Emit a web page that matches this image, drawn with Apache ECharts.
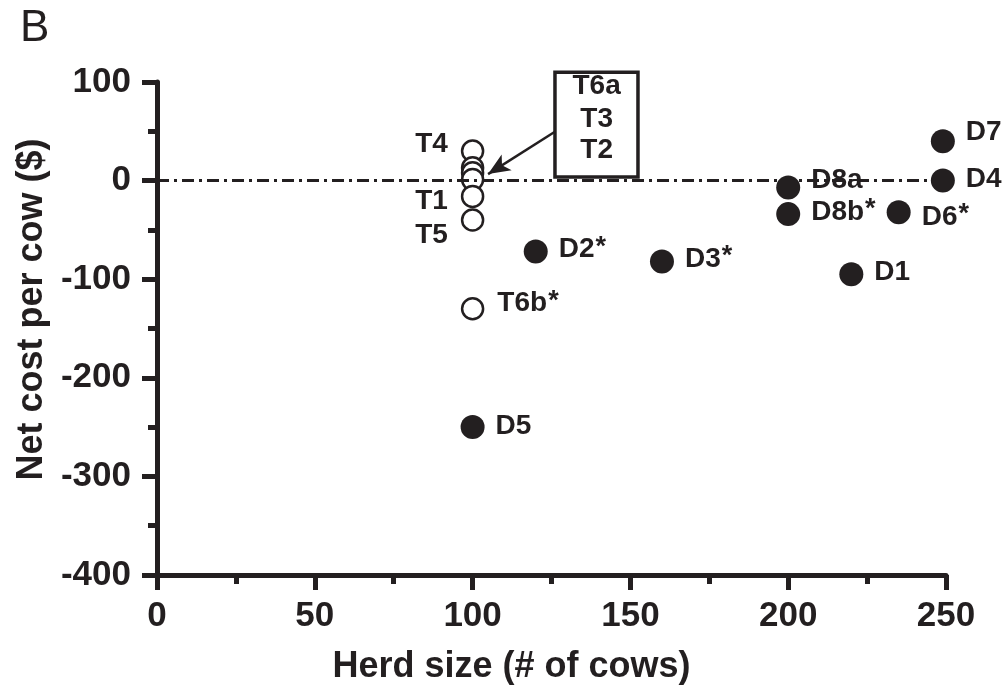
<!DOCTYPE html>
<html>
<head>
<meta charset="utf-8">
<script src="https://cdn.jsdelivr.net/npm/echarts@6/dist/echarts.min.js"></script>
<style>
html,body{margin:0;padding:0;background:#fff;}
#chart{width:1002px;height:690px;}
</style>
</head>
<body>
<div id="chart"></div>
<script>
// ---- data ----
const dNames = ['D1','D2','D3','D4','D5','D6','D7','D8a','D8b'];
const dHerd  = [220, 120, 160, 249, 100, 235, 249, 200, 200];
const dCost  = [-95, -72, -82, 0, -250, -32, 40, -7, -34];

const tNames = ['T4','T6a','T3','T2','T1','T5','T6b'];
const tHerd  = [100, 100, 100, 100, 100, 100, 100];
const tCost  = [30, 13, 8, 1, -16, -40, -130];

const starred = ['D2','D3','D6','D8b','T6b'];
const boxedNames = ['T6a','T3','T2'];

const xTicks = [0, 50, 100, 150, 200, 250];
const yTicks = [-400, -300, -200, -100, 0, 100];

// ---- styling / layout (not data) ----
const INK = '#231f20';
const FONT = '"Liberation Sans", Arial, Helvetica, sans-serif';
const labelTweaks = {
  T4: {position:'left', offset:[0,-8]},
  T1: {position:'left', offset:[0,4]},
  T5: {position:'left', offset:[0,14]},
  T6b:{position:'right', offset:[0,-3]},
  D7: {position:'right', offset:[0,-10]},
  D8a:{position:'right', offset:[0,-8]},
  D6: {position:'right', offset:[0,7]},
  D4: {position:'right', offset:[0,-2]},
  D1: {position:'right', offset:[0,-3]},
  D2: {position:'right', offset:[0,0]},
  D3: {position:'right', offset:[0,0]},
  D5: {position:'right', offset:[0,-2]},
  D8b:{position:'right', offset:[0,0]}
};
// annotation box in data units
const boxX = [126.1, 152.4];
const boxY = [110, 3.6];
const boxTextX = 139.3;
const boxTextY = [96, 62, 31];
const arrowFrom = [126.7, 50.8];
const arrowTo = [104.9, 6.6];

const rich = {
  n: {fontSize: 28, fontWeight: 'bold', color: INK, fontFamily: FONT, lineHeight: 30, verticalAlign: 'bottom'},
  s: {fontSize: 27, fontWeight: 'bold', color: INK, fontFamily: FONT, lineHeight: 26, verticalAlign: 'top', padding: [0, 0, 10, 1]}
};
function makeItem(name, x, y) {
  const tw = labelTweaks[name];
  const item = {name: name, value: [x, y]};
  if (tw && boxedNames.indexOf(name) < 0) {
    const star = starred.indexOf(name) >= 0;
    item.label = {show: true, position: tw.position,
      offset: [tw.offset[0], tw.offset[1] - (star ? 3 : 0)],
      formatter: star ? '{n|' + name + '}{s|*}' : '{n|' + name + '}'};
  } else {
    item.label = {show: false};
  }
  return item;
}
const dData = dNames.map((n, i) => makeItem(n, dHerd[i], dCost[i]));
const tData = tNames.map((n, i) => makeItem(n, tHerd[i], tCost[i]));

const chart = echarts.init(document.getElementById('chart'));
const option = {
  animation: false,
  backgroundColor: '#fff',
  textStyle: {fontFamily: FONT},
  title: {text: 'B', left: 15, top: 2, textStyle: {fontSize: 44, fontWeight: 'normal', color: INK, fontFamily: FONT}},
  grid: {left: 157, right: 56, top: 82, bottom: 110, containLabel: false},
  xAxis: {
    type: 'value', min: 0, max: 250, interval: 50,
    name: 'Herd size (# of cows)', nameLocation: 'middle', nameGap: 74,
    nameTextStyle: {fontSize: 36, fontWeight: 'bold', color: INK, padding: [0, 80, 0, 0]},
    axisLine: {show: true, onZero: false, lineStyle: {color: INK, width: 5}},
    axisTick: {show: true, length: 15, lineStyle: {color: INK, width: 5}},
    minorTick: {show: true, splitNumber: 2, length: 9, lineStyle: {color: INK, width: 5}},
    axisLabel: {fontSize: 35, fontWeight: 'bold', color: INK, margin: 24,
      customValues: xTicks},
    splitLine: {show: false}
  },
  yAxis: {
    type: 'value', min: -400, max: 100, interval: 100,
    name: 'Net cost per cow ($)', nameLocation: 'middle', nameGap: 106,
    nameTextStyle: {fontSize: 36, fontWeight: 'bold', color: INK, padding: [0, 0, 0, 38]},
    axisLine: {show: true, onZero: false, lineStyle: {color: INK, width: 5}},
    axisTick: {show: true, length: 15, lineStyle: {color: INK, width: 5}},
    minorTick: {show: true, splitNumber: 2, length: 9, lineStyle: {color: INK, width: 5}},
    axisLabel: {fontSize: 35, fontWeight: 'bold', color: INK, margin: 26,
      customValues: yTicks},
    splitLine: {show: false}
  },
  series: [
    {
      type: 'scatter', name: 'D', symbol: 'circle', symbolSize: 24,
      itemStyle: {color: INK, opacity: 1},
      label: {show: true, distance: 11, rich: rich, color: INK},
      data: dData,
      z: 3,
      markLine: {
        silent: true, symbol: ['none', 'none'],
        lineStyle: {color: INK, width: 3, type: [12, 5, 3, 5]},
        label: {show: false},
        data: [{yAxis: 0}]
      }
    },
    {
      type: 'scatter', name: 'T', symbol: 'circle', symbolSize: 21,
      itemStyle: {color: '#fff', borderColor: INK, borderWidth: 2.5, opacity: 1},
      label: {show: true, distance: 13, rich: rich, color: INK},
      data: tData,
      z: 4,
      markLine: {
        silent: true, symbol: ['none', 'arrow'], symbolSize: [14, 22],
        lineStyle: {color: INK, width: 2.5, type: 'solid'},
        label: {show: false},
        data: [[{coord: arrowFrom}, {coord: arrowTo}]]
      }
    }
  ]
};
chart.setOption(option);

// annotation box with the labels of the clustered points
const p1 = chart.convertToPixel({gridIndex: 0}, [boxX[0], boxY[0]]);
const p2 = chart.convertToPixel({gridIndex: 0}, [boxX[1], boxY[1]]);
const elems = [{
  type: 'rect', z: 10,
  shape: {x: p1[0], y: p1[1], width: p2[0] - p1[0], height: p2[1] - p1[1]},
  style: {fill: '#fff', stroke: INK, lineWidth: 3.5}
}];
boxedNames.forEach((n, i) => {
  const p = chart.convertToPixel({gridIndex: 0}, [boxTextX, boxTextY[i]]);
  elems.push({type: 'text', z: 11, x: p[0], y: p[1],
    style: {text: n, fontSize: 28, fontWeight: 'bold', fontFamily: FONT, fill: INK, align: 'center', verticalAlign: 'middle'}});
});
chart.setOption({graphic: elems});
</script>
</body>
</html>
